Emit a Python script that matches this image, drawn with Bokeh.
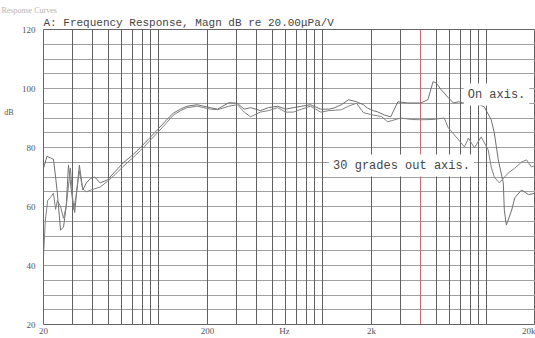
from bokeh.plotting import figure
from bokeh.models import FixedTicker, Grid, Label, LinearAxis, Title
from bokeh.embed import file_html
from bokeh.resources import INLINE

# ---- data ----
on_freq = [20, 21, 22, 23, 23.7, 24.3, 25.4, 26.5, 27.5, 28.4, 29.2, 30.1, 31, 32, 33.1, 34.7,
           36.5, 38.6, 41, 44.3, 49, 55, 61, 70, 78, 88, 99, 111, 124, 137, 150, 173, 208, 230,
           270, 304, 335, 366, 420, 470, 535, 600, 667, 750, 849, 981, 1100, 1181, 1310, 1450,
           1620, 1786, 1883, 2053, 2175, 2400, 2620, 2897, 3326, 3993, 4415, 4744, 4957, 5317,
           5877, 6315, 6786, 7372, 8479, 9733, 10740, 11214, 11862, 12727, 12910, 13280, 14320,
           14960, 16460, 18140, 19700, 20000]
on_db = [73, 77, 76.5, 76, 70, 64.5, 52, 53, 60, 74, 68, 62, 58, 66, 74, 65.6,
         68, 69.5, 70, 68, 69, 72, 74.7, 77.5, 80, 83, 86, 89, 91.7, 93, 94, 94.5, 93.5, 93,
         95.2, 95, 93, 93.5, 92.5, 93.5, 94, 93, 93.5, 94, 94.5, 93, 93, 93.4, 94.5, 96.2,
         95.5, 94.5, 93.4, 92.5, 92.1, 91, 90.4, 95.5, 95.1, 95.1, 96.2, 102.3, 101.9, 99.6,
         96.9, 95.1, 95.5, 95, 95.1, 93.8, 89.4, 85, 75.8, 68, 58.8, 53.7, 58.8,
         63, 65.6, 64, 64.5, 64]

off_freq = [20, 20.5, 21.2, 22, 23, 23.7, 24.3, 25.4, 26.5, 27.5, 28.4, 29.2, 30.5, 31.5, 33.1,
            34.7, 36.5, 38.6, 41, 44.3, 49, 55, 61, 70, 78, 88, 99, 111, 124, 137, 150, 173,
            208, 230, 270, 304, 335, 366, 420, 470, 535, 600, 667, 750, 849, 981, 1100, 1310,
            1450, 1620, 1786, 2053, 2300, 2511, 3013, 3500, 3993, 4744, 5550, 5877, 6786, 7372,
            7804, 8479, 9330, 10290, 10740, 11214, 12032, 13670, 14960, 16460, 17630, 18890, 20000]
off_db = [43, 55, 62, 63, 64.5, 59, 62, 60, 56, 60, 67, 73, 59, 63, 72,
          66, 65, 65.5, 66, 66.6, 68.5, 71, 73.5, 76.5, 79, 82, 85, 88, 91, 92.5, 93.5, 94,
          93, 92.8, 94, 94.5, 92, 90.4, 92, 92.5, 93.5, 92, 92, 93, 94, 92, 92.5, 92.8,
          94, 95, 91.8, 91, 90.5, 88.7, 90, 89.5, 89.4, 89.5, 90, 86.7, 82.6, 80.2,
          83.2, 79.9, 83.6, 79.2, 73.4, 70, 68, 71.4, 73, 75.1, 75.8, 73.4, 74]

x_label_ticks = [20, 200, 590, 2000, 20000]
x_label_texts = ["20", "200", "Hz", "2k", "20k"]
y_label_ticks = [20, 40, 60, 80, 100, 120]
y_unit_tick = [92]
y_unit_text = ["dB"]
x_grid_freqs = [20, 30, 40, 50, 60, 70, 80, 90, 100, 200, 300, 400, 500, 600, 700, 800, 900,
                1000, 2000, 3000, 5000, 6000, 7000, 8000, 9000, 10000, 20000]
x_grid_red = [4000]
y_grid_levels = list(range(20, 121, 5))

title_text = "A: Frequency Response, Magn dB re 20.00\u03bcPa/V"
header_text = "Response Curves"
on_label = "On axis."
off_label = "30 grades out axis."

# ---- figure ----
p = figure(width=535, height=338, x_axis_type="log", x_range=(20, 20000), y_range=(20, 120),
           output_backend="svg", toolbar_location=None,
           min_border_left=43, min_border_right=0, min_border_top=29, min_border_bottom=11)
p.background_fill_color = "white"
p.border_fill_color = "white"
p.outline_line_color = "#666666"
p.outline_line_width = 1

p.xgrid.visible = False
p.ygrid.visible = False

p.add_layout(Grid(dimension=1, ticker=FixedTicker(ticks=y_grid_levels),
                  grid_line_color="#a0a0a0", grid_line_width=1))
p.add_layout(Grid(dimension=0, ticker=FixedTicker(ticks=x_grid_freqs),
                  grid_line_color="#606060", grid_line_width=1))
p.add_layout(Grid(dimension=0, ticker=FixedTicker(ticks=x_grid_red),
                  grid_line_color="#c86a72", grid_line_width=1))

unit_axis = LinearAxis(ticker=FixedTicker(ticks=y_unit_tick),
                       major_label_overrides={t: s for t, s in zip(y_unit_tick, y_unit_text)})
p.add_layout(unit_axis, "left")

for ax in list(p.xaxis) + list(p.yaxis):
    ax.axis_line_color = None
    ax.major_tick_line_color = None
    ax.minor_tick_line_color = None
    ax.major_tick_out = 0
    ax.major_tick_in = 0
    ax.minor_tick_out = 0
    ax.minor_tick_in = 0
    ax.major_label_text_font = "Liberation Serif"
    ax.major_label_text_font_size = "9px"
    ax.major_label_text_color = "#555555"

p.xaxis.ticker = FixedTicker(ticks=x_label_ticks)
p.xaxis.major_label_overrides = {t: s for t, s in zip(x_label_ticks, x_label_texts)}
p.xaxis.major_label_standoff = 1
p.yaxis[0].ticker = FixedTicker(ticks=y_label_ticks)
p.yaxis[0].major_label_standoff = 8
unit_axis.major_label_standoff = 5
unit_axis.major_label_text_font_size = "8px"

p.line(on_freq, on_db, line_color="#707070", line_width=1)
p.line(off_freq, off_db, line_color="#808080", line_width=1)

# ---- texts ----
p.add_layout(Title(text=title_text, align="left", text_font="Liberation Mono",
                   text_font_size="11px", text_font_style="normal", text_color="#444444",
                   standoff=1), "above")
p.add_layout(Title(text=header_text, align="left", offset=-42, text_font="Liberation Serif",
                   text_font_size="8px", text_font_style="normal", text_color="#b4b4b4",
                   standoff=0), "above")

p.add_layout(Label(x=453, y=230, x_units="screen", y_units="screen", text=on_label,
                   text_font="Liberation Mono", text_font_size="12px", text_color="#444444",
                   text_baseline="middle", text_align="center",
                   background_fill_color="white", padding=4))
p.add_layout(Label(x=358, y=159, x_units="screen", y_units="screen", text=off_label,
                   text_font="Liberation Mono", text_font_size="12px", text_color="#444444",
                   text_baseline="middle", text_align="center",
                   background_fill_color="white", padding=4))

open("out.html", "w").write(file_html(p, INLINE))
